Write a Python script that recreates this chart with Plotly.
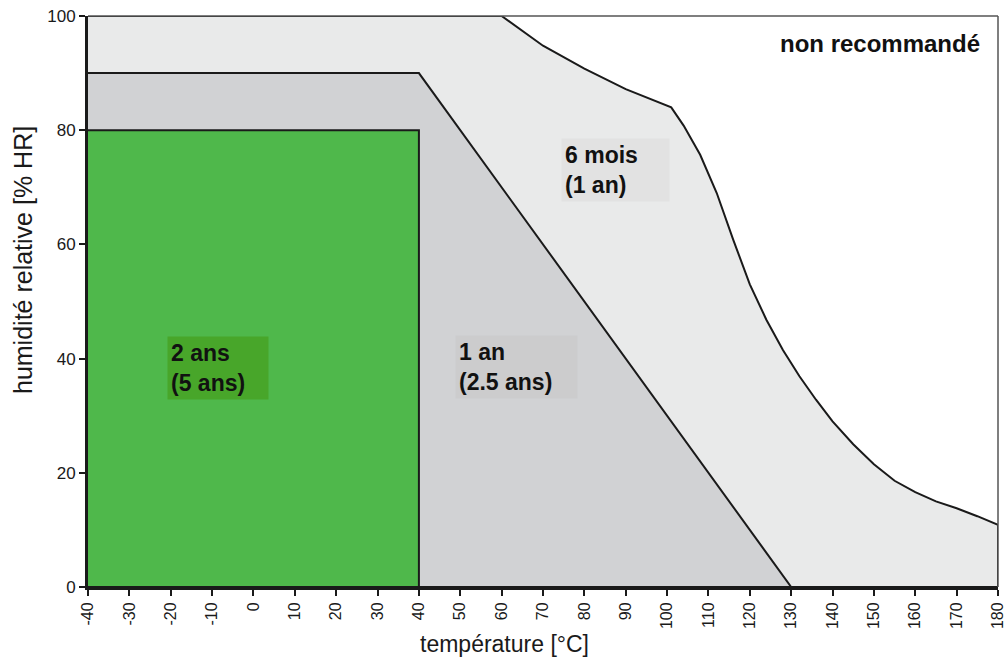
import plotly.graph_objects as go

# --- data ---
outer_x = [-40, 60, 70, 80, 90, 101, 104, 108, 112, 116, 120, 124, 128, 132, 136, 140, 145, 150, 155, 160, 165, 170, 175, 180, 180, -40]
outer_y = [100, 100, 94.8, 90.8, 87.2, 84, 80.8, 75.7, 69, 60.8, 53, 46.8, 41.5, 36.9, 32.8, 29, 25, 21.5, 18.6, 16.6, 15, 13.8, 12.4, 10.9, 0, 0]
mid_x = [-40, 40, 130, -40]
mid_y = [90, 90, 0, 0]
green_x = [-40, 40, 40, -40]
green_y = [80, 80, 0, 0]

x_ticks = list(range(-40, 181, 10))
y_ticks = [0, 20, 40, 60, 80, 100]

labels = [
    dict(text="2 ans<br>(5 ans)", x=-20.9, y=38.3, w=94, bg="#48a62a"),
    dict(text="1 an<br>(2.5 ans)", x=48.7, y=38.6, w=115, bg="#cccccd"),
    dict(text="6 mois<br>(1 an)", x=74.4, y=73.1, w=101, bg="#e2e2e2"),
]

FONT = "Liberation Sans, Arial, sans-serif"

fig = go.Figure()
fig.add_trace(go.Scatter(x=outer_x, y=outer_y, fill="toself", fillcolor="#e9eaea",
                         mode="lines", line=dict(color="#1a1a1a", width=2), hoverinfo="skip"))
fig.add_trace(go.Scatter(x=mid_x, y=mid_y, fill="toself", fillcolor="#d1d2d4",
                         mode="lines", line=dict(color="#1a1a1a", width=2), hoverinfo="skip"))
fig.add_trace(go.Scatter(x=green_x, y=green_y, fill="toself", fillcolor="#4fb84b",
                         mode="lines", line=dict(color="#1a1a1a", width=2), hoverinfo="skip"))

for lb in labels:
    fig.add_annotation(x=lb["x"], y=lb["y"], text="<b>" + lb["text"] + "</b>", showarrow=False,
                       xanchor="left", yanchor="middle", align="left", width=lb["w"],
                       bgcolor=lb["bg"], borderpad=3,
                       font=dict(family=FONT, size=23, color="#111111"))

fig.add_annotation(x=0.982, y=0.951, xref="paper", yref="paper", text="<b>non recommandé</b>",
                   showarrow=False, xanchor="right", yanchor="middle",
                   font=dict(family=FONT, size=24, color="#111111"))

# axis titles
fig.add_annotation(x=0.4582, y=-0.0998, xref="paper", yref="paper", text="température [°C]",
                   showarrow=False, xanchor="center", yanchor="middle",
                   font=dict(family=FONT, size=23, color="#1a1a1a"))
fig.add_annotation(x=-0.0714, y=0.5727, xref="paper", yref="paper", text="humidité relative [% HR]",
                   showarrow=False, xanchor="center", yanchor="middle", textangle=-90,
                   font=dict(family=FONT, size=25, color="#1a1a1a"))

# frame (top and right thin gray)
fig.add_shape(type="line", xref="paper", yref="paper", x0=0, x1=1, y0=1, y1=1,
              line=dict(color="#555555", width=1.5))
fig.add_shape(type="line", xref="paper", yref="paper", x0=1, x1=1, y0=0, y1=1,
              line=dict(color="#555555", width=1.5))

fig.update_layout(
    width=1008, height=662,
    margin=dict(l=88, r=10, t=16, b=75, autoexpand=False),
    paper_bgcolor="white", plot_bgcolor="white",
    showlegend=False,
    font=dict(family=FONT, color="#1a1a1a"),
)
fig.update_xaxes(range=[-40, 180], tickvals=x_ticks, ticktext=[str(v) for v in x_ticks],
                 tickangle=-90, ticks="outside", ticklen=6, tickwidth=2, tickcolor="#1a1a1a",
                 showline=True, linecolor="#1a1a1a", linewidth=3, showgrid=False, zeroline=False,
                 automargin=False, ticklabeloverflow="allow", tickfont=dict(size=16))
fig.update_yaxes(range=[0, 100], tickvals=y_ticks,
                 ticks="outside", ticklen=6, tickwidth=2, tickcolor="#1a1a1a",
                 showline=True, linecolor="#1a1a1a", linewidth=3, showgrid=False, zeroline=False,
                 automargin=False, ticklabeloverflow="allow", tickfont=dict(size=17))

fig.write_html("out.html", config={"displayModeBar": False},
               post_script="document.body.style.margin='0';")
